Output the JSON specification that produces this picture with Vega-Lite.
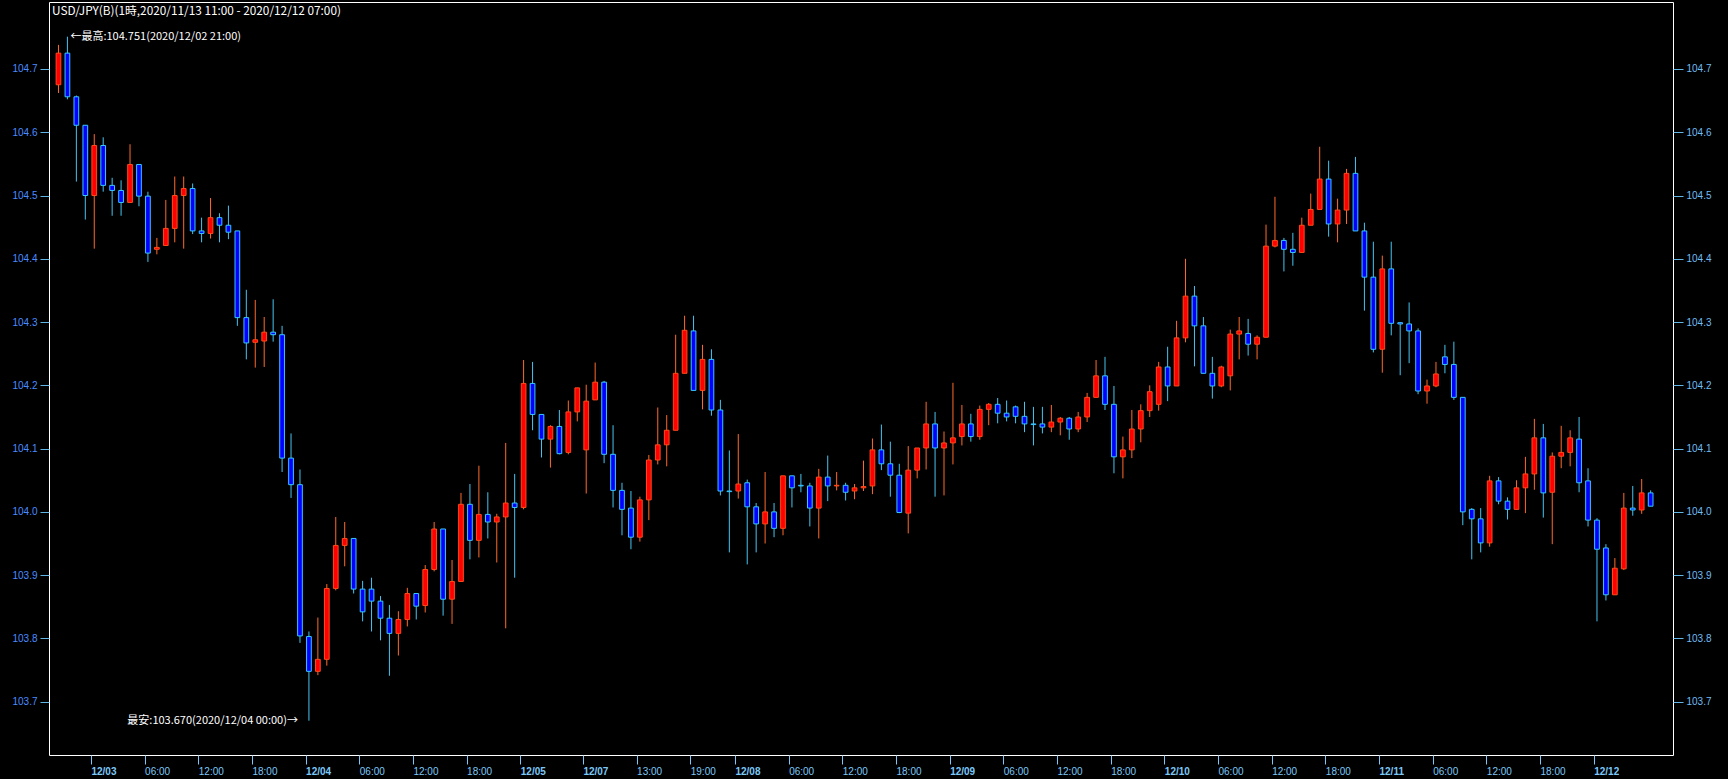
{
"$schema": "https://vega.github.io/schema/vega-lite/v6.json",
"width": 1624, "height": 753,
"autosize": {"type": "none"},
"padding": {"left": 49, "top": 2, "right": 55, "bottom": 24},
"background": "#000000",
"config": {"view": {"stroke": "#ffffff", "strokeWidth": 1}, "axis": {"grid": false}},
"title": {"text": "USD/JPY(B)(1時,2020/11/13 11:00 - 2020/12/12 07:00)", "anchor": "start", "frame": "group", "offset": -16, "dx": 3, "color": "#ffffff", "font": "Noto Sans CJK JP", "fontSize": 11.8, "fontWeight": "normal"},
"datasets": {"candles": [
{"i":0,"o":104.675,"h":104.738,"l":104.662,"c":104.725},
{"i":1,"o":104.725,"h":104.751,"l":104.652,"c":104.656},
{"i":2,"o":104.656,"h":104.658,"l":104.522,"c":104.611},
{"i":3,"o":104.611,"h":104.611,"l":104.462,"c":104.500},
{"i":4,"o":104.500,"h":104.597,"l":104.416,"c":104.579},
{"i":5,"o":104.579,"h":104.592,"l":104.506,"c":104.516},
{"i":6,"o":104.516,"h":104.528,"l":104.468,"c":104.508},
{"i":7,"o":104.508,"h":104.524,"l":104.468,"c":104.489},
{"i":8,"o":104.489,"h":104.581,"l":104.489,"c":104.549},
{"i":9,"o":104.549,"h":104.549,"l":104.483,"c":104.499},
{"i":10,"o":104.499,"h":104.506,"l":104.395,"c":104.409},
{"i":11,"o":104.415,"h":104.433,"l":104.407,"c":104.418},
{"i":12,"o":104.421,"h":104.493,"l":104.421,"c":104.448},
{"i":13,"o":104.448,"h":104.530,"l":104.426,"c":104.500},
{"i":14,"o":104.500,"h":104.530,"l":104.416,"c":104.511},
{"i":15,"o":104.511,"h":104.519,"l":104.439,"c":104.444},
{"i":16,"o":104.444,"h":104.465,"l":104.426,"c":104.440},
{"i":17,"o":104.440,"h":104.496,"l":104.432,"c":104.465},
{"i":18,"o":104.465,"h":104.472,"l":104.426,"c":104.453},
{"i":19,"o":104.453,"h":104.484,"l":104.431,"c":104.442},
{"i":20,"o":104.444,"h":104.444,"l":104.294,"c":104.307},
{"i":21,"o":104.307,"h":104.351,"l":104.241,"c":104.267},
{"i":22,"o":104.268,"h":104.335,"l":104.228,"c":104.272},
{"i":23,"o":104.270,"h":104.308,"l":104.229,"c":104.284},
{"i":24,"o":104.284,"h":104.336,"l":104.269,"c":104.280},
{"i":25,"o":104.280,"h":104.294,"l":104.063,"c":104.085},
{"i":26,"o":104.085,"h":104.124,"l":104.022,"c":104.043},
{"i":27,"o":104.043,"h":104.067,"l":103.793,"c":103.804},
{"i":28,"o":103.803,"h":103.811,"l":103.670,"c":103.748},
{"i":29,"o":103.748,"h":103.833,"l":103.742,"c":103.767},
{"i":30,"o":103.767,"h":103.886,"l":103.757,"c":103.879},
{"i":31,"o":103.879,"h":103.992,"l":103.876,"c":103.947},
{"i":32,"o":103.947,"h":103.984,"l":103.914,"c":103.958},
{"i":33,"o":103.958,"h":103.958,"l":103.871,"c":103.878},
{"i":34,"o":103.878,"h":103.891,"l":103.827,"c":103.842},
{"i":35,"o":103.878,"h":103.896,"l":103.811,"c":103.859},
{"i":36,"o":103.859,"h":103.867,"l":103.797,"c":103.832},
{"i":37,"o":103.832,"h":103.853,"l":103.741,"c":103.808},
{"i":38,"o":103.808,"h":103.843,"l":103.773,"c":103.830},
{"i":39,"o":103.830,"h":103.880,"l":103.819,"c":103.871},
{"i":40,"o":103.871,"h":103.871,"l":103.830,"c":103.851},
{"i":41,"o":103.852,"h":103.916,"l":103.841,"c":103.909},
{"i":42,"o":103.909,"h":103.984,"l":103.906,"c":103.973},
{"i":43,"o":103.973,"h":103.973,"l":103.836,"c":103.862},
{"i":44,"o":103.862,"h":103.924,"l":103.823,"c":103.890},
{"i":45,"o":103.890,"h":104.030,"l":103.890,"c":104.012},
{"i":46,"o":104.012,"h":104.044,"l":103.925,"c":103.955},
{"i":47,"o":103.955,"h":104.073,"l":103.928,"c":103.996},
{"i":48,"o":103.996,"h":104.031,"l":103.958,"c":103.984},
{"i":49,"o":103.984,"h":103.997,"l":103.920,"c":103.992},
{"i":50,"o":103.992,"h":104.109,"l":103.816,"c":104.014},
{"i":51,"o":104.014,"h":104.060,"l":103.896,"c":104.007},
{"i":52,"o":104.007,"h":104.240,"l":104.004,"c":104.203},
{"i":53,"o":104.203,"h":104.237,"l":104.129,"c":104.154},
{"i":54,"o":104.154,"h":104.154,"l":104.086,"c":104.115},
{"i":55,"o":104.115,"h":104.137,"l":104.070,"c":104.135},
{"i":56,"o":104.135,"h":104.161,"l":104.091,"c":104.092},
{"i":57,"o":104.094,"h":104.176,"l":104.091,"c":104.158},
{"i":58,"o":104.158,"h":104.196,"l":104.143,"c":104.196},
{"i":59,"o":104.098,"h":104.201,"l":104.029,"c":104.175},
{"i":60,"o":104.177,"h":104.236,"l":104.177,"c":104.205},
{"i":61,"o":104.205,"h":104.207,"l":104.077,"c":104.091},
{"i":62,"o":104.091,"h":104.137,"l":104.007,"c":104.034},
{"i":63,"o":104.034,"h":104.046,"l":103.963,"c":104.004},
{"i":64,"o":104.006,"h":104.033,"l":103.941,"c":103.960},
{"i":65,"o":103.960,"h":104.024,"l":103.953,"c":104.019},
{"i":66,"o":104.019,"h":104.090,"l":103.987,"c":104.082},
{"i":67,"o":104.082,"h":104.165,"l":104.075,"c":104.106},
{"i":68,"o":104.106,"h":104.153,"l":104.072,"c":104.129},
{"i":69,"o":104.129,"h":104.280,"l":104.129,"c":104.219},
{"i":70,"o":104.219,"h":104.310,"l":104.219,"c":104.287},
{"i":71,"o":104.286,"h":104.310,"l":104.192,"c":104.192},
{"i":72,"o":104.192,"h":104.264,"l":104.162,"c":104.241},
{"i":73,"o":104.241,"h":104.257,"l":104.152,"c":104.161},
{"i":74,"o":104.161,"h":104.177,"l":104.026,"c":104.033},
{"i":75,"o":104.033,"h":104.097,"l":103.936,"c":104.032},
{"i":76,"o":104.033,"h":104.123,"l":104.021,"c":104.044},
{"i":77,"o":104.046,"h":104.051,"l":103.917,"c":104.008},
{"i":78,"o":104.008,"h":104.014,"l":103.936,"c":103.981},
{"i":79,"o":103.981,"h":104.063,"l":103.950,"c":104.000},
{"i":80,"o":104.000,"h":104.014,"l":103.960,"c":103.974},
{"i":81,"o":103.974,"h":104.057,"l":103.963,"c":104.057},
{"i":82,"o":104.057,"h":104.057,"l":104.007,"c":104.038},
{"i":83,"o":104.042,"h":104.060,"l":104.031,"c":104.041},
{"i":84,"o":104.041,"h":104.046,"l":103.977,"c":104.006},
{"i":85,"o":104.006,"h":104.068,"l":103.958,"c":104.055},
{"i":86,"o":104.055,"h":104.089,"l":104.017,"c":104.041},
{"i":87,"o":104.041,"h":104.063,"l":104.034,"c":104.042},
{"i":88,"o":104.042,"h":104.046,"l":104.018,"c":104.031},
{"i":89,"o":104.033,"h":104.044,"l":104.020,"c":104.038},
{"i":90,"o":104.038,"h":104.081,"l":104.033,"c":104.040},
{"i":91,"o":104.041,"h":104.116,"l":104.028,"c":104.098},
{"i":92,"o":104.098,"h":104.138,"l":104.066,"c":104.076},
{"i":93,"o":104.076,"h":104.111,"l":104.024,"c":104.058},
{"i":94,"o":104.058,"h":104.076,"l":103.998,"c":103.999},
{"i":95,"o":103.998,"h":104.104,"l":103.966,"c":104.066},
{"i":96,"o":104.066,"h":104.101,"l":104.053,"c":104.101},
{"i":97,"o":104.101,"h":104.174,"l":104.067,"c":104.139},
{"i":98,"o":104.139,"h":104.158,"l":104.024,"c":104.101},
{"i":99,"o":104.101,"h":104.127,"l":104.026,"c":104.109},
{"i":100,"o":104.109,"h":104.204,"l":104.075,"c":104.117},
{"i":101,"o":104.119,"h":104.169,"l":104.105,"c":104.139},
{"i":102,"o":104.139,"h":104.155,"l":104.111,"c":104.119},
{"i":103,"o":104.119,"h":104.168,"l":104.114,"c":104.162},
{"i":104,"o":104.162,"h":104.172,"l":104.137,"c":104.170},
{"i":105,"o":104.170,"h":104.180,"l":104.140,"c":104.156},
{"i":106,"o":104.156,"h":104.176,"l":104.143,"c":104.150},
{"i":107,"o":104.166,"h":104.168,"l":104.140,"c":104.151},
{"i":108,"o":104.151,"h":104.174,"l":104.126,"c":104.139},
{"i":109,"o":104.139,"h":104.166,"l":104.105,"c":104.138},
{"i":110,"o":104.139,"h":104.166,"l":104.124,"c":104.134},
{"i":111,"o":104.134,"h":104.169,"l":104.126,"c":104.142},
{"i":112,"o":104.142,"h":104.150,"l":104.121,"c":104.148},
{"i":113,"o":104.148,"h":104.150,"l":104.114,"c":104.131},
{"i":114,"o":104.131,"h":104.158,"l":104.126,"c":104.150},
{"i":115,"o":104.150,"h":104.188,"l":104.142,"c":104.181},
{"i":116,"o":104.181,"h":104.240,"l":104.181,"c":104.215},
{"i":117,"o":104.215,"h":104.245,"l":104.161,"c":104.170},
{"i":118,"o":104.170,"h":104.199,"l":104.061,"c":104.087},
{"i":119,"o":104.087,"h":104.119,"l":104.053,"c":104.098},
{"i":120,"o":104.098,"h":104.161,"l":104.085,"c":104.131},
{"i":121,"o":104.131,"h":104.170,"l":104.110,"c":104.160},
{"i":122,"o":104.160,"h":104.200,"l":104.150,"c":104.190},
{"i":123,"o":104.170,"h":104.237,"l":104.160,"c":104.229},
{"i":124,"o":104.229,"h":104.261,"l":104.175,"c":104.199},
{"i":125,"o":104.199,"h":104.302,"l":104.199,"c":104.275},
{"i":126,"o":104.275,"h":104.400,"l":104.268,"c":104.341},
{"i":127,"o":104.341,"h":104.357,"l":104.230,"c":104.294},
{"i":128,"o":104.294,"h":104.308,"l":104.219,"c":104.219},
{"i":129,"o":104.219,"h":104.245,"l":104.179,"c":104.199},
{"i":130,"o":104.199,"h":104.231,"l":104.197,"c":104.229},
{"i":131,"o":104.215,"h":104.288,"l":104.192,"c":104.281},
{"i":132,"o":104.281,"h":104.308,"l":104.241,"c":104.286},
{"i":133,"o":104.282,"h":104.305,"l":104.247,"c":104.265},
{"i":134,"o":104.265,"h":104.279,"l":104.241,"c":104.276},
{"i":135,"o":104.276,"h":104.454,"l":104.276,"c":104.420},
{"i":136,"o":104.420,"h":104.498,"l":104.418,"c":104.429},
{"i":137,"o":104.429,"h":104.433,"l":104.380,"c":104.415},
{"i":138,"o":104.415,"h":104.441,"l":104.389,"c":104.410},
{"i":139,"o":104.410,"h":104.465,"l":104.410,"c":104.453},
{"i":140,"o":104.453,"h":104.503,"l":104.453,"c":104.478},
{"i":141,"o":104.478,"h":104.577,"l":104.478,"c":104.526},
{"i":142,"o":104.526,"h":104.555,"l":104.435,"c":104.455},
{"i":143,"o":104.455,"h":104.495,"l":104.426,"c":104.477},
{"i":144,"o":104.477,"h":104.542,"l":104.455,"c":104.535},
{"i":145,"o":104.535,"h":104.561,"l":104.444,"c":104.444},
{"i":146,"o":104.444,"h":104.457,"l":104.318,"c":104.371},
{"i":147,"o":104.371,"h":104.427,"l":104.252,"c":104.257},
{"i":148,"o":104.257,"h":104.405,"l":104.220,"c":104.384},
{"i":149,"o":104.384,"h":104.427,"l":104.279,"c":104.298},
{"i":150,"o":104.299,"h":104.300,"l":104.216,"c":104.297},
{"i":151,"o":104.297,"h":104.331,"l":104.235,"c":104.286},
{"i":152,"o":104.286,"h":104.290,"l":104.186,"c":104.191},
{"i":153,"o":104.191,"h":104.209,"l":104.171,"c":104.199},
{"i":154,"o":104.199,"h":104.237,"l":104.197,"c":104.218},
{"i":155,"o":104.245,"h":104.264,"l":104.219,"c":104.233},
{"i":156,"o":104.233,"h":104.269,"l":104.177,"c":104.181},
{"i":157,"o":104.181,"h":104.181,"l":103.979,"c":104.000},
{"i":158,"o":104.004,"h":104.006,"l":103.925,"c":103.989},
{"i":159,"o":103.989,"h":104.006,"l":103.936,"c":103.951},
{"i":160,"o":103.951,"h":104.057,"l":103.945,"c":104.049},
{"i":161,"o":104.049,"h":104.055,"l":104.012,"c":104.017},
{"i":162,"o":104.017,"h":104.023,"l":103.988,"c":104.004},
{"i":163,"o":104.004,"h":104.050,"l":104.004,"c":104.038},
{"i":164,"o":104.038,"h":104.087,"l":103.998,"c":104.060},
{"i":165,"o":104.060,"h":104.147,"l":104.035,"c":104.117},
{"i":166,"o":104.117,"h":104.139,"l":103.991,"c":104.030},
{"i":167,"o":104.031,"h":104.094,"l":103.949,"c":104.088},
{"i":168,"o":104.088,"h":104.136,"l":104.069,"c":104.094},
{"i":169,"o":104.094,"h":104.129,"l":104.072,"c":104.117},
{"i":170,"o":104.115,"h":104.150,"l":104.031,"c":104.046},
{"i":171,"o":104.049,"h":104.069,"l":103.977,"c":103.987},
{"i":172,"o":103.987,"h":103.990,"l":103.827,"c":103.941},
{"i":173,"o":103.943,"h":103.949,"l":103.860,"c":103.869},
{"i":174,"o":103.869,"h":103.927,"l":103.869,"c":103.911},
{"i":175,"o":103.910,"h":104.030,"l":103.908,"c":104.006},
{"i":176,"o":104.006,"h":104.041,"l":103.994,"c":104.003},
{"i":177,"o":104.003,"h":104.052,"l":103.997,"c":104.030},
{"i":178,"o":104.030,"h":104.034,"l":104.009,"c":104.009}
]},
"encoding": {
  "x": {"field": "i", "type": "quantitative", "scale": {"domain": [-0.5, 179.94], "nice": false, "zero": false},
   "axis": {"title": null, "domain": false, "values": [3.63,9.63,15.63,21.63,27.63,33.63,39.63,45.63,51.63,58.63,64.63,70.63,75.63,81.63,87.63,93.63,99.63,105.63,111.63,117.63,123.63,129.63,135.63,141.63,147.63,153.63,159.63,165.63,171.63],
    "labelExpr": "['12/03','06:00','12:00','18:00','12/04','06:00','12:00','18:00','12/05','12/07','13:00','19:00','12/08','06:00','12:00','18:00','12/09','06:00','12:00','18:00','12/10','06:00','12:00','18:00','12/11','06:00','12:00','18:00','12/12'][indexof([4,10,16,22,28,34,40,46,52,59,65,71,76,82,88,94,100,106,112,118,124,130,136,142,148,154,160,166,172], round(datum.value + 0.37))]",
    "labelAlign": "left", "labelBaseline": "top", "labelPadding": 2, "labelFlush": false, "labelOverlap": false,
    "labelFont": "Liberation Sans", "labelFontSize": 10, "labelColor": "#7cc8f8",
    "labelFontWeight": {"condition": {"test": "indexof([4,28,52,59,76,100,124,148,172], round(datum.value + 0.37)) >= 0", "value": "bold"}, "value": "normal"},
    "tickColor": "#7cc8f8", "tickSize": 9, "tickWidth": 1}}
},
"layer": [
{"data": {"name": "candles"},
 "mark": {"type": "rule", "strokeWidth": 1},
 "encoding": {
  "y": {"field": "l", "type": "quantitative", "scale": {"domain": [103.6158, 104.8058], "nice": false, "zero": false},
   "axis": {"orient": "left", "title": null, "domain": false, "values": [103.7,103.8,103.9,104.0,104.1,104.2,104.3,104.4,104.5,104.6,104.7], "format": ".1f",
    "labelFont": "Liberation Sans", "labelFontSize": 10, "labelColor": "#4a8cff", "labelPadding": 3,
    "tickColor": "#62b6e6", "tickSize": 9, "tickWidth": 1}},
  "y2": {"field": "h"},
  "color": {"condition": {"test": "datum.c > datum.o", "value": "#ff6a2a"}, "value": "#45c4f0"}
 }},
{"data": {"name": "candles"},
 "mark": {"type": "bar", "orient": "vertical", "size": 4.7, "strokeWidth": 1},
 "encoding": {
  "y": {"field": "o", "type": "quantitative", "scale": {"domain": [103.6158, 104.8058], "nice": false, "zero": false},
   "axis": {"orient": "right", "title": null, "domain": false, "values": [103.7,103.8,103.9,104.0,104.1,104.2,104.3,104.4,104.5,104.6,104.7], "format": ".1f",
    "labelFont": "Liberation Sans", "labelFontSize": 10, "labelColor": "#70bdf2", "labelPadding": 3,
    "tickColor": "#62b6e6", "tickSize": 10, "tickWidth": 1}},
  "y2": {"field": "c"},
  "fill": {"condition": {"test": "datum.c > datum.o", "value": "#ff0000"}, "value": "#0000ff"},
  "stroke": {"condition": {"test": "datum.c > datum.o", "value": "#ff4a1a"}, "value": "#38c8ff"}
 }},
{"data": {"values": [{"i": 1, "p": 104.751, "t": "←最高:104.751(2020/12/02 21:00)"}]},
 "mark": {"type": "text", "align": "left", "baseline": "middle", "dx": 3, "color": "#ffffff", "font": "Noto Sans CJK JP", "fontSize": 11},
 "encoding": {
  "y": {"field": "p", "type": "quantitative", "scale": {"domain": [103.6158, 104.8058], "nice": false, "zero": false}, "axis": null},
  "text": {"field": "t"}
 }},
{"data": {"values": [{"i": 28, "p": 103.670, "t": "最安:103.670(2020/12/04 00:00)→"}]},
 "mark": {"type": "text", "align": "right", "baseline": "middle", "dx": -11, "color": "#ffffff", "font": "Noto Sans CJK JP", "fontSize": 11},
 "encoding": {
  "y": {"field": "p", "type": "quantitative", "scale": {"domain": [103.6158, 104.8058], "nice": false, "zero": false}, "axis": null},
  "text": {"field": "t"}
 }}
],
"resolve": {"axis": {"y": "independent"}}
}
